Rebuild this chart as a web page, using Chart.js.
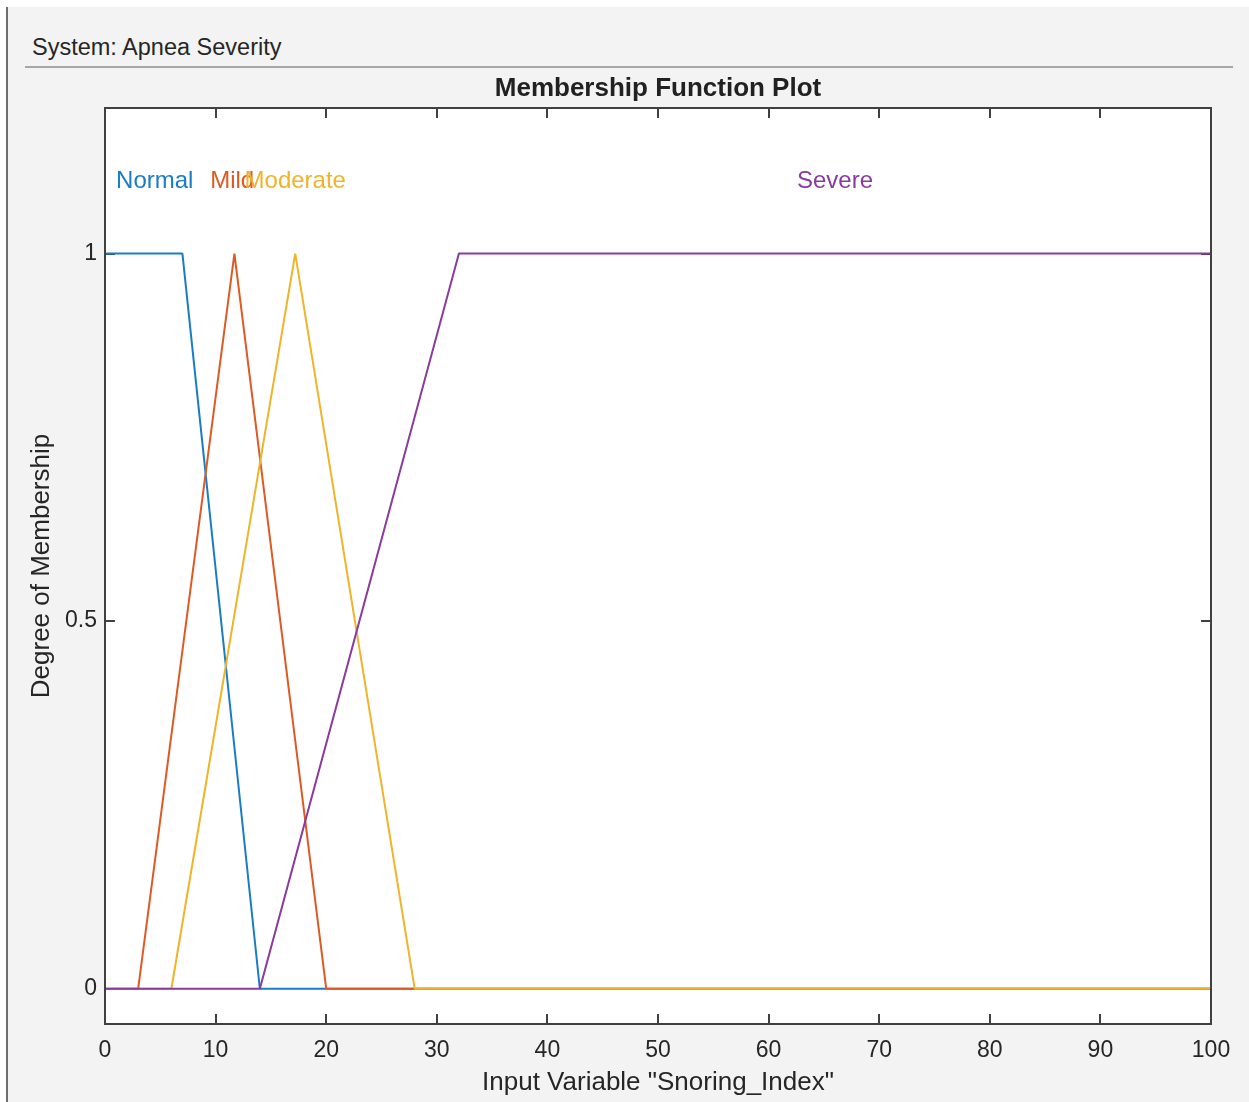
<!DOCTYPE html>
<html>
<head>
<meta charset="utf-8">
<script src="https://cdn.jsdelivr.net/npm/chart.js@4/dist/chart.umd.min.js"></script>
<style>
  html, body { margin: 0; padding: 0; }
  body { width: 1249px; height: 1102px; background: #fff; position: relative; overflow: hidden; font-family: "Liberation Sans", Arial, sans-serif; }
  .panel { position: absolute; left: 6px; top: 7px; width: 1243px; height: 1095px; background: #f3f3f3; border-left: 2px solid #6e6e6e; }
  .sys { position: absolute; left: 32px; top: 34px; font-size: 23.5px; color: #262626; }
  .sep { position: absolute; left: 25px; top: 66px; width: 1208px; height: 0; border-top: 2px solid #a6a6a6; }
  #wrap { position: absolute; left: 0; top: 0; width: 1249px; height: 1102px; }
</style>
</head>
<body>
<div class="panel"></div>
<div class="sys">System: Apnea Severity</div>
<div class="sep"></div>
<div id="wrap"><canvas id="myChart"></canvas></div>
<script>
'use strict'

// MEMBERSHIP FUNCTIONS (x / y breakpoints)
var mfNames = ['Normal', 'Mild', 'Moderate', 'Severe'];
var normalX = [0, 7, 14, 100];
var normalY = [1, 1, 0, 0];
var mildX = [0, 3, 11.7, 20, 100];
var mildY = [0, 0, 1, 0, 0];
var moderateX = [0, 6, 17.2, 28, 100];
var moderateY = [0, 0, 1, 0, 0];
var severeX = [0, 14, 32, 100];
var severeY = [0, 0, 1, 1];

// where the names sit (x in data units, y = 1.1)
var labelX = [4.5, 11.5, 17.2, 66];
var labelY = 1.1;

var xTicks = [0, 10, 20, 30, 40, 50, 60, 70, 80, 90, 100];
var yTicks = [0, 0.5, 1];

var colors = ['#1a7cc7', '#dd5a22', '#eeb42a', '#8a3b9c'];

function toPoints(xs, ys) {
	var pts = [];
	for (var i = 0; i < xs.length; i++) {
		pts.push({ x: xs[i], y: ys[i] });
	}
	return pts;
}

var allX = [normalX, mildX, moderateX, severeX];
var allY = [normalY, mildY, moderateY, severeY];

var datasets = [];
for (var i = 0; i < mfNames.length; i++) {
	datasets.push({
		label: mfNames[i],
		data: toPoints(allX[i], allY[i]),
		borderColor: colors[i],
		borderWidth: 2,
		borderJoinStyle: 'bevel',
		pointRadius: 0,
		fill: false,
		tension: 0,
		// later ones are drawn on top
		order: mfNames.length - i
	});
}

var FONT = '"Liberation Sans", Arial, sans-serif';

// white plot area + inward ticks (under the lines), box + title + mf names on top
var plotDecor = {
	id: 'plotDecor',
	beforeDatasetsDraw: function(chart) {
		var a = chart.chartArea;
		var ctx = chart.ctx;
		var xs = chart.scales.x, ys = chart.scales.y;
		ctx.save();
		ctx.fillStyle = '#ffffff';
		ctx.fillRect(a.left, a.top, a.right - a.left, a.bottom - a.top);
		ctx.strokeStyle = '#404040';
		ctx.lineWidth = 2;
		ctx.beginPath();
		xTicks.forEach(function(v) {
			var px = Math.round(xs.getPixelForValue(v));
			ctx.moveTo(px, a.bottom); ctx.lineTo(px, a.bottom - 10);
			ctx.moveTo(px, a.top); ctx.lineTo(px, a.top + 10);
		});
		yTicks.forEach(function(v) {
			var py = Math.round(ys.getPixelForValue(v));
			ctx.moveTo(a.left, py); ctx.lineTo(a.left + 10, py);
			ctx.moveTo(a.right, py); ctx.lineTo(a.right - 10, py);
		});
		ctx.stroke();
		ctx.restore();
	},
	afterDraw: function(chart) {
		var a = chart.chartArea;
		var ctx = chart.ctx;
		var xs = chart.scales.x, ys = chart.scales.y;
		ctx.save();
		ctx.strokeStyle = '#404040';
		ctx.lineWidth = 2;
		ctx.strokeRect(a.left, a.top, a.right - a.left, a.bottom - a.top);

		// title
		ctx.fillStyle = '#212121';
		ctx.font = 'bold 26px ' + FONT;
		ctx.textAlign = 'center';
		ctx.textBaseline = 'middle';
		ctx.fillText('Membership Function Plot', (a.left + a.right) / 2, 89);

		// mf names
		ctx.font = '24px ' + FONT;
		for (var i = 0; i < mfNames.length; i++) {
			ctx.fillStyle = colors[i];
			ctx.fillText(mfNames[i], xs.getPixelForValue(labelX[i]), ys.getPixelForValue(labelY) + 1);
		}
		ctx.restore();
	}
};

var tickFont = { family: FONT, size: 23 };
var titleFont = { family: FONT, size: 26 };

var ctx = document.getElementById('myChart').getContext('2d');
var chart = new Chart(ctx, {
	type: 'line',
	data: { datasets: datasets },
	options: {
		responsive: true,
		maintainAspectRatio: false,
		animation: false,
		layout: { padding: { left: 0, top: 108, right: 38, bottom: 0 } },
		plugins: {
			legend: { display: false },
			tooltip: { enabled: false }
		},
		scales: {
			x: {
				type: 'linear',
				min: 0,
				max: 100,
				afterBuildTicks: function(scale) {
					scale.ticks = xTicks.map(function(v) { return { value: v }; });
				},
				afterFit: function(scale) { scale.height = 78; },
				grid: { display: false, drawTicks: false },
				border: { display: false },
				ticks: { font: tickFont, color: '#262626', padding: 13, maxRotation: 0, autoSkip: false },
				title: { display: true, text: 'Input Variable "Snoring_Index"', font: titleFont, color: '#262626', padding: { top: 0, bottom: 4 } }
			},
			y: {
				type: 'linear',
				min: -0.048,
				max: 1.198,
				afterBuildTicks: function(scale) {
					scale.ticks = yTicks.map(function(v) { return { value: v }; });
				},
				afterFit: function(scale) { scale.width = 105; },
				grid: { display: false, drawTicks: false },
				border: { display: false },
				ticks: {
					font: tickFont, color: '#262626', padding: 8,
					callback: function(v) { return String(v); }
				},
				title: { display: true, text: 'Degree of Membership', font: titleFont, color: '#262626', padding: { top: 26, bottom: 0 } }
			}
		}
	},
	plugins: [plotDecor]
});
</script>
</body>
</html>
